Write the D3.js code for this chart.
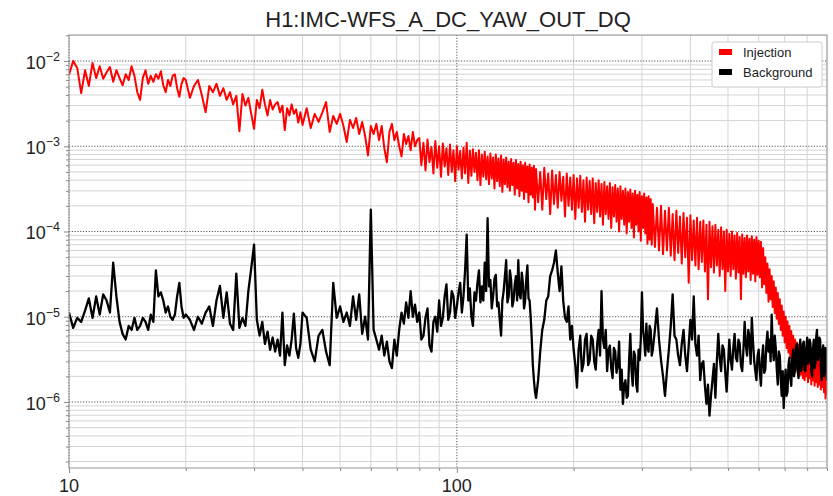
<!DOCTYPE html>
<html><head><meta charset="utf-8">
<script src="https://cdn.jsdelivr.net/npm/d3@7"></script>
<style>
body{margin:0;background:#fff}
text{font-family:"Liberation Sans",Arial,Helvetica,sans-serif;fill:#222}
</style>
</head><body>
<svg id="chart" width="833" height="496"></svg>
<script>
// ---------------- data ----------------
const chartTitle = "H1:IMC-WFS_A_DC_YAW_OUT_DQ";
const seriesNames = ["Injection", "Background"];
const seriesColors = ["#ff0000", "#000000"];
const seriesWidths = [2.0, 2.3];
// frequency bins (Hz): [start, stop, step]
const freqBands = [[10, 20, 0.25], [20, 40, 0.5], [40, 80, 1], [80, 160, 1], [160, 320, 2], [320, 640, 4], [640, 904, 4]];
const injection = [
 6.9e-3,1.0e-2,8.3e-3,4.2e-3,7.8e-3,5.1e-3,9.5e-3,6.3e-3,8.7e-3,6.2e-3,7.4e-3,8.5e-3,5.7e-3,7.8e-3,6.3e-3,5.2e-3,7.0e-3,6.0e-3,8.7e-3,6.7e-3,4.3e-3,3.5e-3,6.3e-3,7.8e-3,5.4e-3,6.7e-3,5.7e-3,7.0e-3,6.2e-3,7.6e-3,5.2e-3,4.3e-3,6.0e-3,5.1e-3,6.7e-3,7.0e-3,4.8e-3,3.8e-3,5.4e-3,6.3e-3,
 6.0e-3,3.7e-3,5.1e-3,6.0e-3,4.0e-3,2.5e-3,5.1e-3,4.3e-3,5.4e-3,3.9e-3,4.8e-3,3.5e-3,4.3e-3,3.1e-3,3.9e-3,1.5e-3,4.1e-3,3.0e-3,3.7e-3,2.4e-3,1.6e-3,3.5e-3,2.8e-3,4.6e-3,3.1e-3,2.3e-3,3.5e-3,2.7e-3,3.1e-3,3.3e-3,2.5e-3,3.0e-3,1.55e-3,2.8e-3,2.3e-3,3.1e-3,2.4e-3,2.7e-3,1.9e-3,2.5e-3,
 1.78e-3,2.8e-3,1.64e-3,2.4e-3,1.93e-3,2.5e-3,3.3e-3,1.47e-3,2.27e-3,1.83e-3,2.4e-3,1.73e-3,1.12e-3,2.04e-3,1.64e-3,2.15e-3,1.39e-3,1.93e-3,1.32e-3,7.8e-4,1.73e-3,1.39e-3,1.83e-3,1.18e-3,1.73e-3,9.5e-4,6.5e-4,1.47e-3,1.83e-3,1.18e-3,1.47e-3,1.0e-3,7.6e-4,1.39e-3,1.06e-3,1.32e-3,9.0e-4,1.47e-3,1.0e-3,1.18e-3,
 1.25e-3,6.0e-4,1.1e-3,5.2e-4,1.2e-3,6.5e-4,9.8e-4,4.8e-4,1.15e-3,5.6e-4,1.0e-3,4.4e-4,1.08e-3,5.8e-4,9.5e-4,4.6e-4,1.05e-3,5.0e-4,9.0e-4,3.9e-4,1.0e-3,5.3e-4,8.8e-4,4.2e-4,9.6e-4,4.8e-4,1.1e-3,3.7e-4,8.9e-4,4.5e-4,9.2e-4,5.0e-4,8.4e-4,4.0e-4,9.0e-4,3.5e-4,8.0e-4,4.4e-4,8.6e-4,4.1e-4,
 7.6e-4,3.6e-4,8.2e-4,4.2e-4,7.4e-4,3.2e-4,8.0e-4,3.9e-4,7.2e-4,3.4e-4,7.8e-4,2.9e-4,7.0e-4,3.6e-4,7.4e-4,3.3e-4,6.6e-4,3.0e-4,7.1e-4,3.5e-4,6.4e-4,2.7e-4,6.9e-4,3.2e-4,6.2e-4,2.6e-4,6.6e-4,3.0e-4,6.0e-4,2.4e-4,6.4e-4,2.9e-4,5.8e-4,2.2e-4,6.1e-4,2.7e-4,5.6e-4,2.5e-4,5.9e-4,1.8e-4,
 5.4e-4,2.2e-4,5.0e-4,1.8e-4,5.6e-4,2.4e-4,4.8e-4,1.6e-4,5.2e-4,2.1e-4,4.6e-4,1.9e-4,5.0e-4,2.3e-4,4.4e-4,1.5e-4,4.8e-4,2.0e-4,4.3e-4,1.8e-4,4.6e-4,1.4e-4,4.2e-4,1.9e-4,4.5e-4,1.7e-4,4.0e-4,1.3e-4,4.3e-4,1.8e-4,3.9e-4,1.6e-4,4.2e-4,1.25e-4,3.7e-4,1.7e-4,4.0e-4,1.5e-4,3.6e-4,1.2e-4,
 3.8e-4,1.6e-4,3.4e-4,1.4e-4,3.7e-4,1.1e-4,3.3e-4,1.5e-4,3.5e-4,1.3e-4,3.2e-4,1.0e-4,3.4e-4,1.4e-4,3.0e-4,1.2e-4,3.2e-4,9.5e-5,2.9e-4,1.3e-4,3.1e-4,1.1e-4,2.8e-4,8.5e-5,3.0e-4,1.2e-4,2.7e-4,1.0e-4,2.9e-4,7.8e-5,2.6e-4,1.1e-4,2.8e-4,9.5e-5,2.5e-4,7.2e-5,2.6e-4,8.0e-5,2.4e-4,7.0e-5,
 2.1e-4,6.6e-5,1.9e-4,6.0e-5,2.0e-4,5.4e-5,1.75e-4,6.0e-5,1.9e-4,5.2e-5,1.6e-4,4.6e-5,1.75e-4,5.6e-5,1.5e-4,4.2e-5,1.65e-4,5.0e-5,1.45e-4,2.5e-5,1.55e-4,4.6e-5,1.35e-4,4.0e-5,1.45e-4,3.6e-5,1.3e-4,4.4e-5,1.35e-4,3.4e-5,1.2e-4,1.6e-5,1.3e-4,3.8e-5,1.15e-4,3.3e-5,1.2e-4,4.0e-5,1.05e-4,3.0e-5,
 1.12e-4,3.6e-5,1.0e-4,2.0e-5,1.05e-4,3.4e-5,9.4e-5,3.0e-5,1.0e-4,3.6e-5,9.0e-5,2.8e-5,9.6e-5,3.3e-5,8.6e-5,1.6e-5,9.2e-5,3.2e-5,8.4e-5,2.9e-5,9.0e-5,3.4e-5,8.2e-5,2.7e-5,8.8e-5,3.2e-5,8.0e-5,2.6e-5,8.6e-5,3.1e-5,7.8e-5,2.9e-5,7.6e-5,2.2e-5,6.4e-5,2.4e-5,5.0e-5,1.9e-5,4.2e-5,1.5e-5,
 3.6e-5,1.6e-5,3.0e-5,1.3e-5,2.6e-5,1.1e-5,2.2e-5,9.5e-6,1.9e-5,8.2e-6,1.6e-5,7.0e-6,1.35e-5,6.0e-6,1.15e-5,5.0e-6,1.0e-5,4.3e-6,8.8e-6,3.8e-6,7.8e-6,3.3e-6,6.8e-6,2.9e-6,6.0e-6,2.6e-6,5.4e-6,2.4e-6,5.0e-6,2.2e-6,4.7e-6,2.0e-6,4.6e-6,
 2.1e-6,4.4e-6,1.9e-6,4.5e-6,1.8e-6,4.2e-6,2.0e-6,4.4e-6,1.7e-6,4.1e-6,1.9e-6,4.3e-6,1.6e-6,4.0e-6,1.8e-6,4.2e-6,1.55e-6,3.9e-6,1.7e-6,4.1e-6,1.5e-6,3.8e-6,1.6e-6,3.9e-6,1.4e-6,3.6e-6,1.5e-6,3.7e-6,1.3e-6,3.4e-6,1.1e-6,3.2e-6,1.2e-6
];
const background = [
 1.12e-5,7.4e-6,9.7e-6,8.7e-6,1.18e-5,1.64e-5,9.7e-6,1.73e-5,1.06e-5,1.83e-5,1.55e-5,1.12e-5,4.3e-5,1.73e-5,8.7e-6,6.3e-6,5.4e-6,7.8e-6,7.0e-6,9.7e-6,7.0e-6,7.8e-6,9.7e-6,8.7e-6,7.0e-6,1.06e-5,8.7e-6,3.5e-5,1.73e-5,1.93e-5,1.55e-5,1.12e-5,1.32e-5,1.0e-5,9.2e-6,1.06e-5,1.73e-5,2.5e-5,1.32e-5,9.7e-6,
 1.06e-5,9.2e-6,7.0e-6,1.0e-5,8.3e-6,1.12e-5,1.32e-5,7.8e-6,1.55e-5,2.3e-5,9.7e-6,1.93e-5,8.3e-6,7.0e-6,3.2e-5,7.4e-6,9.7e-6,7.8e-6,2.0e-5,3.7e-5,7.0e-5,9.2e-6,6.0e-6,8.7e-6,4.8e-6,6.7e-6,4.1e-6,5.7e-6,3.9e-6,5.4e-6,3.5e-6,1.12e-5,2.7e-6,4.6e-6,3.5e-6,5.4e-6,1.09e-5,4.3e-6,3.3e-6,4.8e-6,
 1.12e-5,9.7e-6,4.1e-6,3.0e-6,6.0e-6,7.0e-6,3.9e-6,2.7e-6,2.5e-5,9.7e-6,1.32e-5,8.7e-6,1.12e-5,7.8e-6,1.73e-5,9.2e-6,1.83e-5,6.3e-6,1.0e-5,5.4e-6,1.8e-4,7.0e-6,5.4e-6,4.1e-6,6.0e-6,3.5e-6,5.1e-6,3.0e-6,2.5e-6,5.4e-6,3.5e-6,7.0e-6,1.12e-5,8.3e-6,1.47e-5,9.7e-6,2.0e-5,1.0e-5,1.39e-5,8.7e-6,
 1.12e-5,5.4e-6,6.0e-6,9.7e-6,1.25e-5,4.6e-6,3.9e-6,8.7e-6,1.0e-5,6.7e-6,1.55e-5,7.8e-6,9.7e-6,1.73e-5,2.4e-5,9.2e-6,1.12e-5,2.0e-5,1.73e-5,9.7e-6,1.32e-5,1.93e-5,2.5e-5,1.12e-5,1.73e-5,3.5e-5,9.2e-5,1.55e-5,2.15e-5,1.0e-5,7.8e-6,1.93e-5,1.55e-5,2.5e-5,3.5e-5,1.47e-5,2.27e-5,1.55e-5,4.3e-5,2.0e-5,
 1.43e-4,2.27e-5,2.7e-5,1.25e-5,1.73e-5,2.8e-5,3.1e-5,1.32e-5,1.47e-5,9.2e-6,6.0e-6,1.55e-5,2.0e-5,3.0e-5,4.6e-5,1.47e-5,1.73e-5,3.5e-5,2.7e-5,1.32e-5,1.55e-5,2.4e-5,3.0e-5,1.55e-5,4.6e-5,1.83e-5,1.64e-5,3.3e-5,2.5e-5,1.25e-5,1.55e-5,2.8e-5,4.0e-5,1.64e-5,1.55e-5,9.7e-6,5.4e-6,2.7e-6,1.8e-6,1.32e-6,
 1.12e-6,1.8e-6,3.9e-6,7.0e-6,9.2e-6,1.55e-5,1.73e-5,3.0e-5,3.5e-5,4.3e-5,6.0e-5,3.3e-5,2.0e-5,3.9e-5,1.55e-5,9.7e-6,8.7e-6,1.32e-5,5.4e-6,7.8e-6,4.1e-6,2.7e-6,1.47e-6,4.1e-6,6.0e-6,2.3e-6,2.8e-6,5.4e-6,6.3e-6,2.7e-6,3.1e-6,6.0e-6,5.4e-6,3.0e-6,2.4e-6,4.8e-6,7.0e-6,3.5e-6,2.0e-5,5.4e-6,
 4.3e-6,7.0e-6,2.3e-6,4.1e-6,4.6e-6,2.5e-6,1.9e-6,4.3e-6,3.9e-6,2.2e-6,2.7e-6,5.1e-6,1.39e-6,2.4e-6,9.5e-7,1.6e-6,1.8e-6,1.12e-6,1.18e-6,3.1e-6,6.3e-6,2.4e-6,1.55e-6,3.9e-6,3.5e-6,1.6e-6,1.32e-6,4.1e-6,3.1e-6,5.4e-6,1.93e-5,7.0e-6,5.4e-6,3.5e-6,8.3e-6,4.3e-6,3.9e-6,7.8e-6,7.0e-6,3.5e-6,
 4.1e-6,7.0e-6,1.25e-5,5.4e-6,3.1e-6,2.0e-6,1.18e-6,2.3e-6,4.1e-6,7.8e-6,1.83e-5,6.0e-6,5.4e-6,3.5e-6,2.7e-6,4.8e-6,7.0e-6,3.5e-6,2.3e-6,4.6e-6,9.2e-6,5.4e-6,1.73e-5,4.8e-6,3.5e-6,6.0e-6,1.8e-6,2.8e-6,3.0e-6,1.55e-6,9.5e-7,1.6e-6,6.9e-7,1.18e-6,1.8e-6,2.8e-6,1.12e-6,3.0e-6,6.3e-6,3.3e-6,
 2.3e-6,4.6e-6,4.1e-6,2.2e-6,1.32e-6,2.7e-6,5.4e-6,3.1e-6,2.4e-6,4.3e-6,6.3e-6,3.3e-6,3.0e-6,5.4e-6,4.8e-6,2.7e-6,2.3e-6,4.1e-6,8.7e-6,4.6e-6,3.5e-6,7.0e-6,5.7e-6,2.8e-6,9.7e-6,5.1e-6,3.1e-6,2.3e-6,1.8e-6,3.5e-6,4.1e-6,2.3e-6,1.55e-6,3.3e-6,4.6e-6,2.2e-6,2.4e-6,4.8e-6,6.7e-6,3.9e-6,
 5.4e-6,3.0e-6,1.06e-5,4.6e-6,3.1e-6,6.0e-6,4.3e-6,2.4e-6,1.6e-6,3.9e-6,3.5e-6,1.8e-6,1.18e-6,2.3e-6,8.5e-7,1.6e-6,2.4e-6,1.18e-6,1.32e-6,2.7e-6,3.3e-6,1.9e-6,1.55e-6,3.1e-6,4.1e-6,2.0e-6,2.3e-6,4.3e-6,4.8e-6,2.5e-6,1.9e-6,4.1e-6,5.4e-6,
 2.3e-6,2.7e-6,4.8e-6,5.1e-6,2.4e-6,2.3e-6,4.3e-6,5.7e-6,2.8e-6,3.0e-6,5.4e-6,4.8e-6,2.3e-6,2.0e-6,4.1e-6,5.4e-6,2.5e-6,2.8e-6,5.7e-6,7.0e-6,3.1e-6,3.5e-6,5.7e-6,5.4e-6,2.4e-6,1.8e-6,3.9e-6,4.6e-6,2.0e-6,2.4e-6,4.3e-6,4.1e-6,1.8e-6
];
const xDomain = [10, 900];
const yDomain = [1.68e-7, 2.02e-2];
const xMajorTicks = [10, 100];
const xMinorTicks = [20, 30, 40, 50, 60, 70, 80, 90, 200, 300, 400, 500, 600, 700, 800, 900];
const yMajorExponents = [-6, -5, -4, -3, -2];
const yMinorMultipliers = [2, 3, 4, 5, 6, 7, 8, 9];

// ---------------- drawing ----------------
const frequencies = freqBands.flatMap(([a, b, s]) => d3.range(a, b - s / 2, s));
const svg = d3.select("#chart");
const plot = {left: 69, right: 827, top: 35, bottom: 468};
const x = d3.scaleLog().domain(xDomain).range([plot.left, plot.right]);
const y = d3.scaleLog().domain(yDomain).range([plot.bottom, plot.top]);

const yMajorTicks = yMajorExponents.map(e => Math.pow(10, e));
const yMinorTicks = [];
for (let e = -7; e <= -2; e++) yMinorMultipliers.forEach(m => {
  const v = m * Math.pow(10, e);
  if (v >= yDomain[0] && v <= yDomain[1]) yMinorTicks.push(v);
});

svg.append("defs").append("clipPath").attr("id", "clip")
  .append("rect").attr("x", plot.left).attr("y", plot.top)
  .attr("width", plot.right - plot.left).attr("height", plot.bottom - plot.top);

// grid
const grid = svg.append("g");
grid.selectAll(".xmin").data(xMinorTicks).join("line")
  .attr("x1", d => x(d)).attr("x2", d => x(d)).attr("y1", plot.top).attr("y2", plot.bottom)
  .attr("stroke", "#d4d4d4").attr("stroke-width", 1);
grid.selectAll(".ymin").data(yMinorTicks).join("line")
  .attr("y1", d => y(d)).attr("y2", d => y(d)).attr("x1", plot.left).attr("x2", plot.right)
  .attr("stroke", "#d4d4d4").attr("stroke-width", 1);
grid.selectAll(".xmaj").data(xMajorTicks).join("line")
  .attr("x1", d => x(d)).attr("x2", d => x(d)).attr("y1", plot.top).attr("y2", plot.bottom)
  .attr("stroke", "#555").attr("stroke-width", 1).attr("stroke-dasharray", "1.2,1.6");
grid.selectAll(".ymaj").data(yMajorTicks).join("line")
  .attr("y1", d => y(d)).attr("y2", d => y(d)).attr("x1", plot.left).attr("x2", plot.right)
  .attr("stroke", "#555").attr("stroke-width", 1).attr("stroke-dasharray", "1.2,1.6");

// series
const n = Math.min(frequencies.length, injection.length, background.length);
const line = d3.line().x(d => x(d[0])).y(d => y(d[1]));
const dataSets = [injection, background];
dataSets.forEach((vals, i) => {
  const pts = d3.range(n).map(k => [frequencies[k], vals[k]]);
  svg.append("path").datum(pts).attr("clip-path", "url(#clip)")
    .attr("d", line).attr("fill", "none")
    .attr("stroke", seriesColors[i]).attr("stroke-width", seriesWidths[i])
    .attr("stroke-linejoin", "round");
});

// frame
svg.append("rect").attr("x", plot.left).attr("y", plot.top)
  .attr("width", plot.right - plot.left).attr("height", plot.bottom - plot.top)
  .attr("fill", "none").attr("stroke", "#999").attr("stroke-width", 1);

// axes ticks
const xAxisMinor = d3.axisBottom(x).tickValues(xMinorTicks).tickSize(3).tickFormat("");
const xAxisMajor = d3.axisBottom(x).tickValues(xMajorTicks).tickSize(5).tickFormat("");
const yAxisMinor = d3.axisLeft(y).tickValues(yMinorTicks).tickSize(3).tickFormat("");
const yAxisMajor = d3.axisLeft(y).tickValues(yMajorTicks).tickSize(5).tickFormat("");
[xAxisMinor, xAxisMajor].forEach(a => {
  const g = svg.append("g").attr("transform", `translate(0,${plot.bottom})`).call(a);
  g.select(".domain").remove();
  g.selectAll("line").attr("stroke", "#888");
});
[yAxisMinor, yAxisMajor].forEach(a => {
  const g = svg.append("g").attr("transform", `translate(${plot.left},0)`).call(a);
  g.select(".domain").remove();
  g.selectAll("line").attr("stroke", "#888");
});

// tick labels
svg.selectAll(".xlab").data(xMajorTicks).join("text")
  .attr("x", d => x(d)).attr("y", 492).attr("text-anchor", "middle")
  .attr("font-size", 18).text(d => d);
const ylab = svg.selectAll(".ylab").data(yMajorExponents).join("text")
  .attr("x", 60).attr("y", d => y(Math.pow(10, d)) + 8).attr("text-anchor", "end")
  .attr("font-size", 18);
ylab.append("tspan").text("10");
ylab.append("tspan").attr("dy", -8).attr("font-size", 12.5).text(d => "\u2212" + Math.abs(d));

// title
svg.append("text").attr("x", (plot.left + plot.right) / 2).attr("y", 27)
  .attr("text-anchor", "middle").attr("font-size", 22).text(chartTitle);

// legend
const lg = svg.append("g");
lg.append("rect").attr("x", 712).attr("y", 42).attr("width", 110).attr("height", 45)
  .attr("rx", 2).attr("fill", "#fff").attr("stroke", "#ccc");
seriesNames.forEach((name, i) => {
  lg.append("rect").attr("x", 719).attr("y", 49 + i * 20).attr("width", 13).attr("height", 6)
    .attr("fill", seriesColors[i]);
  lg.append("text").attr("x", 743).attr("y", 57 + i * 20).attr("font-size", 13).text(name);
});
</script>
</body></html>
